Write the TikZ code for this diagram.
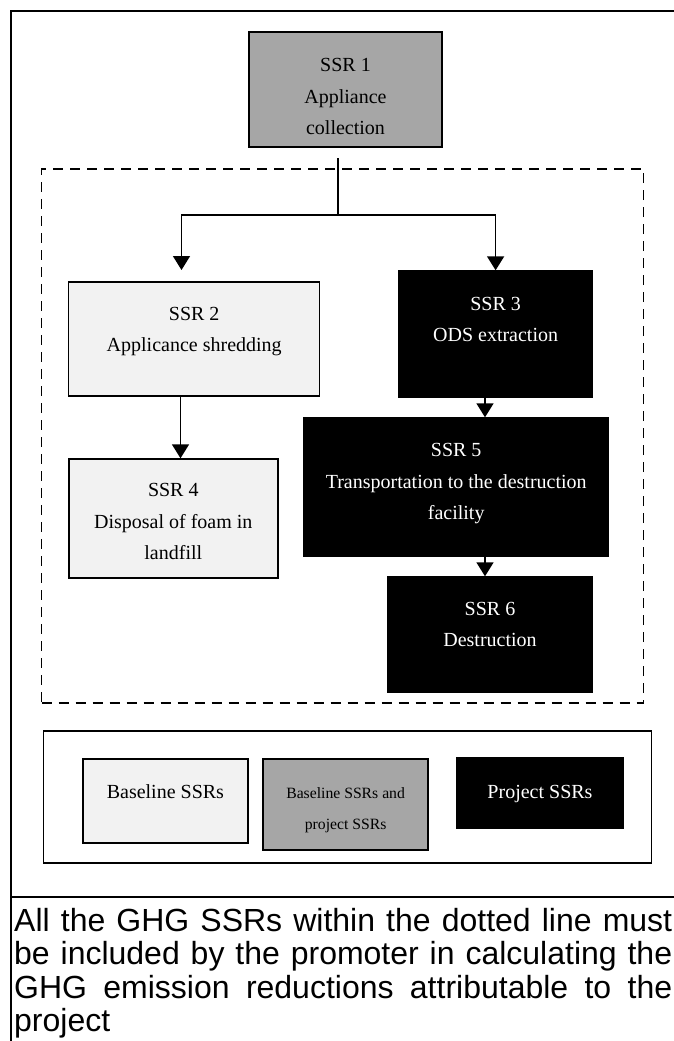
\documentclass[tikz,border=0pt]{standalone}
\usepackage{fontspec}
\setmainfont{Liberation Serif}
\newfontfamily\arialf{Liberation Sans}
\usetikzlibrary{arrows.meta}
\definecolor{midgray}{HTML}{A6A6A6}
\definecolor{palegray}{HTML}{F2F2F2}
\begin{document}
\begin{tikzpicture}[x=1pt,y=-1pt,
  ssrbox/.style={draw=black, line width=1.4pt, inner sep=0pt},
  lightbox/.style={ssrbox, fill=palegray},
  graybox/.style={ssrbox, fill=midgray},
  darkbox/.style={ssrbox, fill=black},
  boxtext/.style={anchor=base, align=center, inner sep=0pt, font=\fontsize{20}{31.5}\selectfont},
  whitetext/.style={boxtext, text=white},
  conn/.style={draw=black, line width=1.6pt},
  arr/.style={conn, -{Triangle[length=14pt,width=17pt]}},
  zonebox/.style={draw=black, line width=1.3pt, dash pattern=on 10pt off 7pt, inner sep=0pt},
  framestyle/.style={draw=black, line width=2.3pt},
]
\useasboundingbox (0,0) rectangle (673,1041);

% outer frame
\coordinate (fbl) at (11,1045);
\coordinate (ftl) at (11,11);
\coordinate (ftr) at (676,11);
\coordinate (sepl) at (11,897);
\coordinate (sepr) at (676,897);
\draw[framestyle] (fbl) -- (ftl) -- (ftr);
\draw[framestyle, line width=2pt] (sepl) -- (sepr);

% dashed zone
\node[zonebox, minimum width=602pt, minimum height=534pt] (zone) at (342.7,436) {};

% SSR boxes
\node[graybox, line width=1.8pt, minimum width=193pt, minimum height=115pt] (s1) at (345.5,89.5) {};
\node[lightbox, minimum width=251pt, minimum height=114pt] (s2) at (194.2,339) {};
\node[darkbox, minimum width=193pt, minimum height=126pt] (s3) at (495.6,334) {};
\node[lightbox, minimum width=209pt, minimum height=119pt] (s4) at (173.3,518.5) {};
\node[darkbox, minimum width=305pt, minimum height=138pt] (s5) at (456.2,487) {};
\node[darkbox, minimum width=205pt, minimum height=115pt] (s6) at (490,634.5) {};

% texts (base anchor = baseline of the last line)
\node[boxtext] (t1) at (345.5,134.5) {SSR 1\\Appliance\\collection};
\node[boxtext] (t2) at (194.2,351.5) {SSR 2\\Applicance shredding};
\node[whitetext] (t3) at (495.6,341.5) {SSR 3\\ODS extraction};
\node[boxtext] (t4) at (173.3,559.5) {SSR 4\\Disposal of foam in\\landfill};
\node[whitetext] (t5) at (456.2,519.5) {SSR 5\\Transportation to the destruction\\facility};
\node[whitetext] (t6) at (490,646.5) {SSR 6\\Destruction};

% connectors
\coordinate (ctop) at (338,158);
\coordinate (cjn) at (338,215);
\coordinate (ltip) at (181.5,270);
\coordinate (lx) at (180.5,0);
\coordinate (rx) at (485,0);
\draw[conn] (ctop) -- (cjn);
\draw[arr] (cjn) -| (ltip);
\draw[arr] (cjn) -| (s3.north);
\draw[arr] (s2.south -| lx) -- (s4.north -| lx);
\draw[arr] (s3.south -| rx) -- (s5.north -| rx);
\draw[arr] (s5.south -| rx) -- (s6.north -| rx);

% legend
\node[draw=black, line width=1.2pt, inner sep=0pt, minimum width=607.7pt, minimum height=132pt] (leg) at (347.6,797) {};
\node[lightbox, minimum width=165pt, minimum height=84pt] (l1) at (165.4,801) {};
\node[graybox, minimum width=165pt, minimum height=91pt] (l2) at (345.6,804.5) {};
\node[darkbox, minimum width=166pt, minimum height=70pt] (l3) at (540,793) {};
\node[boxtext] (tl1) at (165.4,798.5) {Baseline SSRs};
\node[boxtext, font=\fontsize{15.7}{31}\selectfont] (tl2) at (345.6,829) {Baseline SSRs and\\project SSRs};
\node[whitetext] (tl3) at (540,798.5) {Project SSRs};

% note
\node[anchor=north west, inner sep=0pt, text width=658pt, align=justify,
  font=\arialf\fontsize{32}{33.5}\selectfont] (note) at (14,908)
  {\hyphenpenalty=10000\tolerance=10000 All the GHG SSRs within the dotted line must be included by the promoter in calculating the GHG emission reductions attributable to the project};
\end{tikzpicture}
\end{document}
